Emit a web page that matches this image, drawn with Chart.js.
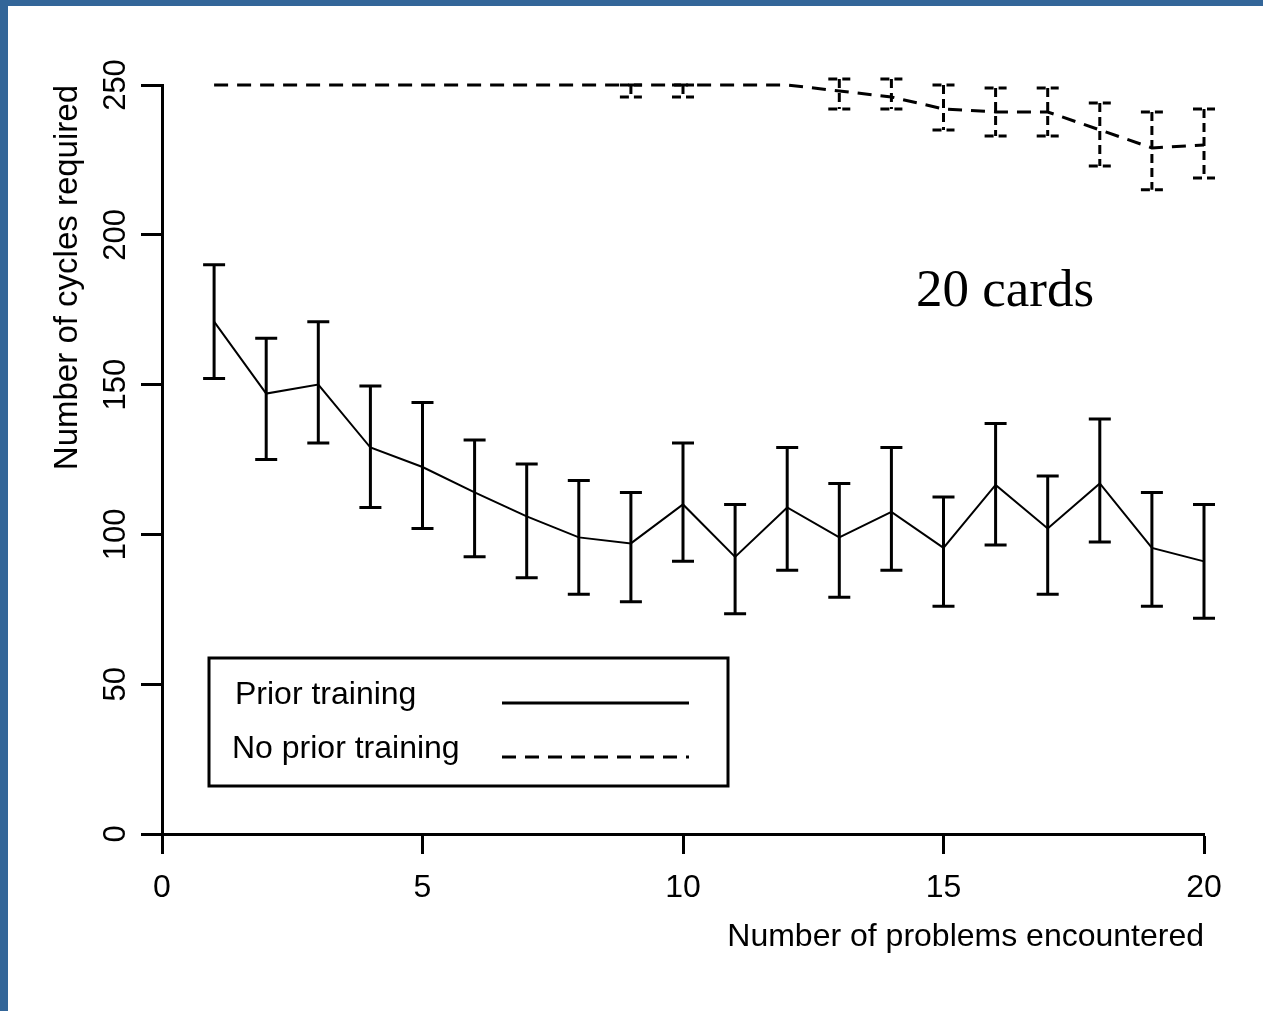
<!DOCTYPE html>
<html>
<head>
<meta charset="utf-8">
<script src="https://cdn.jsdelivr.net/npm/chart.js@4/dist/chart.umd.min.js"></script>
<style>
  html, body { margin: 0; padding: 0; background: #fff; }
  #wrap { position: relative; width: 1263px; height: 1011px; overflow: hidden; background: #fff; }
  #stripLeft { position: absolute; left: 0; top: 0; width: 8px; height: 1011px; background: #336699; }
  #stripTop { position: absolute; left: 0; top: 0; width: 1263px; height: 6px; background: #336699; }
  canvas { position: absolute; left: 0; top: 0; }
</style>
</head>
<body>
<div id="wrap">
  <div id="stripLeft"></div>
  <div id="stripTop"></div>
  <canvas id="chart" width="1263" height="1011"></canvas>
</div>
<script>
// problems encountered (x)
const problems = [1, 2, 3, 4, 5, 6, 7, 8, 9, 10, 11, 12, 13, 14, 15, 16, 17, 18, 19, 20];

// prior training: mean, lower and upper end of error bar
const priorMean = [171, 147, 150, 129, 122.5, 114, 106, 99, 97, 110, 92.5, 109, 99, 107.5, 95.5, 116.5, 102, 117, 95.5, 91];
const priorLow  = [152, 125, 130.5, 109, 102, 92.5, 85.5, 80, 77.5, 91, 73.5, 88, 79, 88, 76, 96.5, 80, 97.5, 76, 72];
const priorHigh = [190, 165.5, 171, 149.5, 144, 131.5, 123.5, 118, 114, 130.5, 110, 129, 117, 129, 112.5, 137, 119.5, 138.5, 114, 110];

// no prior training
const noPriorMean = [250, 250, 250, 250, 250, 250, 250, 250, 250, 250, 250, 250, 248, 246, 242, 241, 241, 235, 229, 230];
const noPriorLow  = [250, 250, 250, 250, 250, 250, 250, 250, 246, 246, 250, 250, 242, 242, 235, 233, 233, 223, 215, 219];
const noPriorHigh = [250, 250, 250, 250, 250, 250, 250, 250, 250, 250, 250, 250, 252, 252, 250, 249, 249, 244, 241, 242];

const yTicks = [0, 50, 100, 150, 200, 250];
const xTicks = [0, 5, 10, 15, 20];

const seriesNames = ["Prior training", "No prior training"];
const xTitle = "Number of problems encountered";
const yTitle = "Number of cycles required";
const note = "20 cards";

const sans = "'Liberation Sans', Arial, sans-serif";

function toPoints(vals) {
  return problems.map((p, i) => ({ x: p, y: vals[i] }));
}

const errorBars = {
  id: "errorBars",
  afterDatasetsDraw(chart) {
    const { ctx } = chart;
    const x = chart.scales.x, y = chart.scales.y;
    chart.data.datasets.forEach((ds) => {
      ctx.save();
      ctx.strokeStyle = "#000";
      ctx.lineWidth = 3;
      ctx.setLineDash(ds.borderDash ? [9, 5] : []);
      ds.errLow.forEach((lo, i) => {
        const px = x.getPixelForValue(problems[i]);
        const yl = y.getPixelForValue(lo);
        const yh = y.getPixelForValue(ds.errHigh[i]);
        if (Math.abs(yl - yh) < 1) return;
        ctx.beginPath();
        ctx.moveTo(px, yh); ctx.lineTo(px, yl);
        ctx.moveTo(px - 11, yh); ctx.lineTo(px + 11, yh);
        ctx.moveTo(px - 11, yl); ctx.lineTo(px + 11, yl);
        ctx.stroke();
      });
      ctx.restore();
    });
  }
};

const extras = {
  id: "extras",
  afterDraw(chart) {
    const { ctx } = chart;
    const y = chart.scales.y;
    ctx.save();
    // rotated y tick labels
    ctx.fillStyle = "#000";
    ctx.font = "31px " + sans;
    ctx.textAlign = "center";
    ctx.textBaseline = "middle";
    y.ticks.forEach((t) => {
      const py = y.getPixelForValue(t.value);
      ctx.save();
      ctx.translate(116, py);
      ctx.rotate(-Math.PI / 2);
      ctx.fillText(String(t.value), 0, 0);
      ctx.restore();
    });

    // legend box
    ctx.lineWidth = 3;
    ctx.strokeStyle = "#000";
    ctx.strokeRect(209, 658, 519, 128);
    ctx.font = "32px " + sans;
    ctx.textAlign = "left";
    ctx.fillText(seriesNames[0], 235, 695);
    ctx.fillText(seriesNames[1], 232, 749);
    ctx.beginPath();
    ctx.moveTo(502, 703); ctx.lineTo(689, 703);
    ctx.stroke();
    ctx.setLineDash([14, 9]);
    ctx.beginPath();
    ctx.moveTo(502, 757); ctx.lineTo(689, 757);
    ctx.stroke();
    ctx.setLineDash([]);

    // annotation
    ctx.font = "53px 'Liberation Serif', 'Times New Roman', serif";
    ctx.textBaseline = "alphabetic";
    ctx.fillText(note, 916, 306);
    ctx.restore();
  }
};

new Chart(document.getElementById("chart"), {
  type: "line",
  data: {
    datasets: [
      {
        label: seriesNames[0],
        data: toPoints(priorMean),
        errLow: priorLow,
        errHigh: priorHigh,
        borderColor: "#000",
        borderWidth: 2,
        pointRadius: 0,
        tension: 0,
        clip: false,
      },
      {
        label: seriesNames[1],
        data: toPoints(noPriorMean),
        errLow: noPriorLow,
        errHigh: noPriorHigh,
        borderColor: "#000",
        borderWidth: 3,
        borderDash: [14, 9],
        pointRadius: 0,
        tension: 0,
        clip: false,
      },
    ],
  },
  options: {
    responsive: false,
    animation: false,
    layout: { padding: { top: 85, right: 59, bottom: 55, left: 0 } },
    plugins: {
      legend: { display: false },
      tooltip: { enabled: false },
    },
    scales: {
      x: {
        type: "linear",
        min: 0,
        max: 20,
        afterBuildTicks: (s) => { s.ticks = xTicks.map((v) => ({ value: v })); },
        afterFit: (s) => { s.height = 1011 - 55 - 834; },
        border: { display: true, color: "#000", width: 3 },
        grid: { drawOnChartArea: false, drawTicks: true, tickLength: 20, tickWidth: 3, tickColor: "#000" },
        ticks: { color: "#000", font: { family: sans, size: 32 }, padding: 15, maxRotation: 0 },
        title: {
          display: true,
          text: xTitle,
          align: "end",
          color: "#000",
          font: { family: sans, size: 32 },
          padding: { top: 0, bottom: 0 },
        },
      },
      y: {
        type: "linear",
        min: 0,
        max: 250,
        afterBuildTicks: (s) => { s.ticks = yTicks.map((v) => ({ value: v })); },
        afterFit: (s) => { s.width = 162; },
        border: { display: true, color: "#000", width: 3 },
        grid: { drawOnChartArea: false, drawTicks: true, tickLength: 21, tickWidth: 3, tickColor: "#000" },
        ticks: { display: false },
        title: {
          display: true,
          text: yTitle,
          align: "end",
          color: "#000",
          font: { family: sans, size: 33 },
          padding: { top: 48, bottom: 0 },
        },
      },
    },
  },
  plugins: [errorBars, extras],
});
</script>
</body>
</html>
